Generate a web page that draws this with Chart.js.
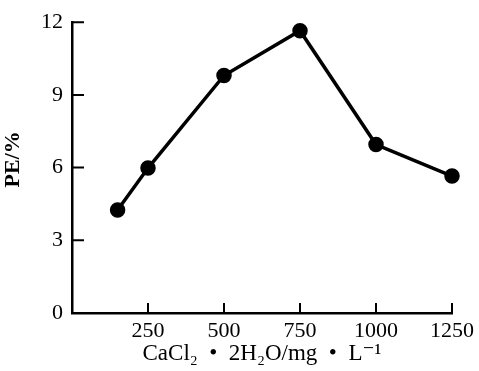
<!DOCTYPE html>
<html>
<head>
<meta charset="utf-8">
<script src="https://cdn.jsdelivr.net/npm/chart.js@4/dist/chart.umd.min.js"></script>
<style>
  html, body { margin: 0; padding: 0; background: #fff; }
  #wrap { width: 479px; height: 371px; }
</style>
</head>
<body>
<div id="wrap"><canvas id="grafico"></canvas></div>
<script>
// datos
const dosis = [150, 250, 500, 750, 1000, 1250];
const pe = [4.25, 5.98, 9.8, 11.65, 6.95, 5.65];
const ticksX = [250, 500, 750, 1000, 1250];
const ticksY = [0, 3, 6, 9, 12];

const fuente = '"Liberation Serif", "DejaVu Serif", serif';

// marcas de los ejes hacia dentro
const marcasDentro = {
  id: 'marcasDentro',
  afterDraw(chart) {
    const ctx = chart.ctx;
    const x = chart.scales.x;
    const y = chart.scales.y;
    ctx.save();
    ctx.strokeStyle = '#000';
    ctx.lineWidth = 2;
    ctx.beginPath();
    ticksY.forEach(v => {
      const py = y.getPixelForValue(v);
      ctx.moveTo(x.left, py);
      ctx.lineTo(x.left + 12, py);
    });
    ticksX.forEach(v => {
      const px = x.getPixelForValue(v);
      ctx.moveTo(px, y.bottom);
      ctx.lineTo(px, y.bottom - 10);
    });
    ctx.stroke();
    ctx.restore();
  }
};

new Chart(document.getElementById('grafico'), {
  type: 'line',
  data: {
    datasets: [{
      data: dosis.map((d, i) => ({ x: d, y: pe[i] })),
      borderColor: '#000',
      backgroundColor: '#000',
      borderWidth: 3.5,
      pointRadius: 6,
      pointBackgroundColor: '#000',
      tension: 0,
      clip: false
    }]
  },
  options: {
    responsive: true,
    maintainAspectRatio: false,
    animation: false,
    layout: { padding: { top: 17, right: 27, left: 0, bottom: 0 } },
    plugins: { legend: { display: false }, tooltip: { enabled: false } },
    scales: {
      x: {
        type: 'linear',
        min: 0,
        max: 1250,
        afterBuildTicks: s => { s.ticks = ticksX.map(v => ({ value: v })); },
        ticks: {
          color: '#000',
          font: { family: fuente, size: 22 },
          padding: 5,
          maxRotation: 0,
          callback: v => String(v)
        },
        grid: { drawOnChartArea: false, drawTicks: false },
        border: { color: '#000', width: 2.5 },
        title: {
          display: true,
          text: 'CaCl₂\u2002•\u20022H₂O/mg\u2002•\u2002L⁻¹',
          color: '#000',
          font: { family: fuente, size: 23 },
          padding: { top: 0, bottom: 3 }
        },
        afterFit: s => { s.height = 58; }
      },
      y: {
        min: 0,
        max: 12,
        afterBuildTicks: s => { s.ticks = ticksY.map(v => ({ value: v })); },
        ticks: { color: '#000', font: { family: fuente, size: 22 }, padding: 9 },
        grid: { drawOnChartArea: false, drawTicks: false },
        border: { color: '#000', width: 2.5 },
        title: {
          display: true,
          text: '   PE/%',
          color: '#000',
          font: { family: fuente, size: 22, weight: 'bold' },
          padding: { top: 0, bottom: 2 }
        },
        afterFit: s => { s.width = 72; }
      }
    }
  },
  plugins: [marcasDentro]
});
</script>
</body>
</html>
